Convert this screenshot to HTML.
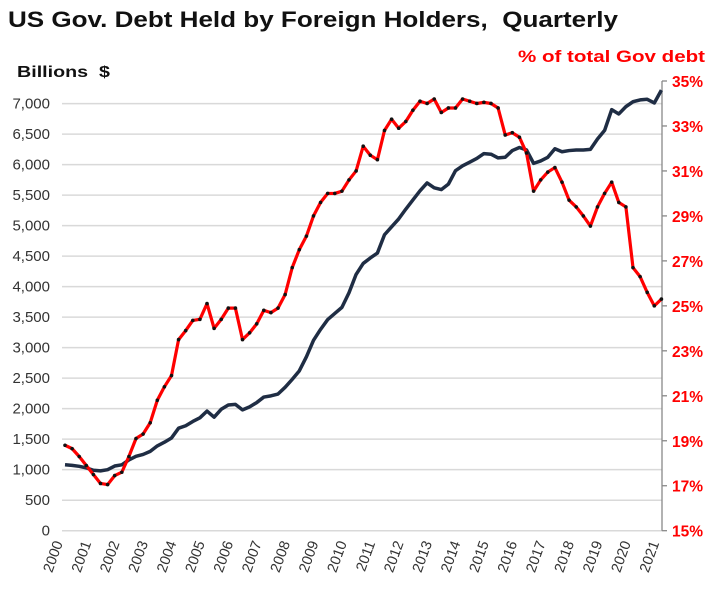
<!DOCTYPE html>
<html><head><meta charset="utf-8"><style>
html,body{margin:0;padding:0;background:#fff;width:720px;height:591px;overflow:hidden}
svg{display:block;font-family:"Liberation Sans",sans-serif}
</style></head><body>
<svg id="chart" width="720" height="591" viewBox="0 0 720 591">
<text x="8" y="27" font-size="22" font-weight="bold" fill="#111" textLength="610" lengthAdjust="spacingAndGlyphs" xml:space="preserve">US Gov. Debt Held by Foreign Holders,  Quarterly</text>
<text x="17" y="77" font-size="16" font-weight="bold" fill="#111" textLength="93" lengthAdjust="spacingAndGlyphs" xml:space="preserve">Billions  $</text>
<text x="518" y="62" font-size="16.5" font-weight="bold" fill="#ff0000" textLength="187" lengthAdjust="spacingAndGlyphs">% of total Gov debt</text>
<g id="grid"></g><g id="axes"></g><g id="series"></g>
</svg>
<script>
const years = [2000,2001,2002,2003,2004,2005,2006,2007,2008,2009,2010,2011,2012,2013,2014,2015,2016,2017,2018,2019,2020,2021];
const leftTicks = [0,500,1000,1500,2000,2500,3000,3500,4000,4500,5000,5500,6000,6500,7000];
const rightTicks = [15,17,19,21,23,25,27,29,31,33,35];
const debtBillions = [1080,1070,1055,1030,990,980,1000,1060,1080,1160,1220,1250,1300,1390,1450,1520,1680,1720,1790,1850,1960,1860,1990,2060,2070,1980,2030,2100,2190,2210,2240,2350,2480,2620,2850,3120,3300,3460,3560,3660,3900,4200,4380,4470,4550,4850,4980,5110,5270,5420,5570,5700,5620,5590,5680,5900,5980,6040,6100,6180,6170,6110,6120,6230,6280,6240,6020,6060,6120,6260,6210,6230,6240,6240,6250,6420,6560,6900,6830,6950,7030,7060,7070,7010,7220];
const pctOfTotal = [18.8,18.65,18.3,17.9,17.5,17.1,17.05,17.45,17.6,18.3,19.1,19.3,19.8,20.8,21.4,21.9,23.5,23.9,24.35,24.4,25.1,24.0,24.4,24.9,24.9,23.5,23.8,24.2,24.8,24.7,24.9,25.5,26.7,27.5,28.1,29.0,29.6,30.0,30.0,30.1,30.6,31.0,32.1,31.7,31.5,32.8,33.3,32.9,33.2,33.7,34.1,34.0,34.2,33.6,33.8,33.8,34.2,34.1,34.0,34.05,34.0,33.8,32.6,32.7,32.5,31.8,30.1,30.6,30.95,31.15,30.5,29.7,29.4,29.0,28.55,29.4,30.0,30.5,29.6,29.4,26.7,26.3,25.6,25.0,25.3];

const NS="http://www.w3.org/2000/svg";
const X0=65, QSTEP=7.1, PL=62, PR=662, YB=530.7, YT=81;
const xq = i => X0 + i*QSTEP;
const xYear = y => X0 + (y-2000)*4*QSTEP;
const yL = v => YB - v*(YB-YT)/7370;
const yR = p => YB - (p-15)*(YB-YT)/20;
function el(tag, attrs, parent){const e=document.createElementNS(NS,tag);for(const k in attrs)e.setAttribute(k,attrs[k]);parent.appendChild(e);return e;}
const grid=document.getElementById('grid'), axes=document.getElementById('axes'), series=document.getElementById('series');

leftTicks.forEach(v=>{
  const y=yL(v);
  const g=el('line',{x1:PL,x2:PR,y1:y,y2:y,stroke:'#d9d9d9','stroke-width':1.5},grid);
  
  
  const t=el('text',{x:50,y:y+5,'font-size':15,fill:'#333','text-anchor':'end'},axes);
  t.textContent=v.toLocaleString('en-US');
  
  
});
const ax=el('line',{x1:PR,x2:PR,y1:YT,y2:YB,stroke:'#888','stroke-width':1.3},axes);


rightTicks.forEach(p=>{
  const y=yR(p);
  const tk=el('line',{x1:PR,x2:PR+5,y1:y,y2:y,stroke:'#888','stroke-width':1.3},axes);
  
  
  const t=el('text',{x:672,y:y+6,'font-size':15.5,'font-weight':'bold',fill:'#ff0000'},axes);
  t.textContent=p+'%';
  
  
});
years.forEach(yr=>{
  const x=xYear(yr);
  const t=el('text',{x:0,y:0,'font-size':14.5,fill:'#333','text-anchor':'end',transform:`translate(${x-2},${543}) rotate(-70)`},axes);
  t.textContent=yr;
  
  
});

const bl=el('polyline',{points:debtBillions.map((v,i)=>xq(i)+','+yL(v)).join(' '),fill:'none',stroke:'#1f2d44','stroke-width':3.5,'stroke-linejoin':'round'},series);


const rl=el('polyline',{points:pctOfTotal.map((p,i)=>xq(i)+','+yR(p)).join(' '),fill:'none',stroke:'#ff0000','stroke-width':3.2,'stroke-linejoin':'round'},series);


pctOfTotal.forEach((p,i)=>{
  const c=el('circle',{cx:xq(i),cy:yR(p),r:1.8,fill:'#111'},series);
  
  
});
</script>
</body></html>
